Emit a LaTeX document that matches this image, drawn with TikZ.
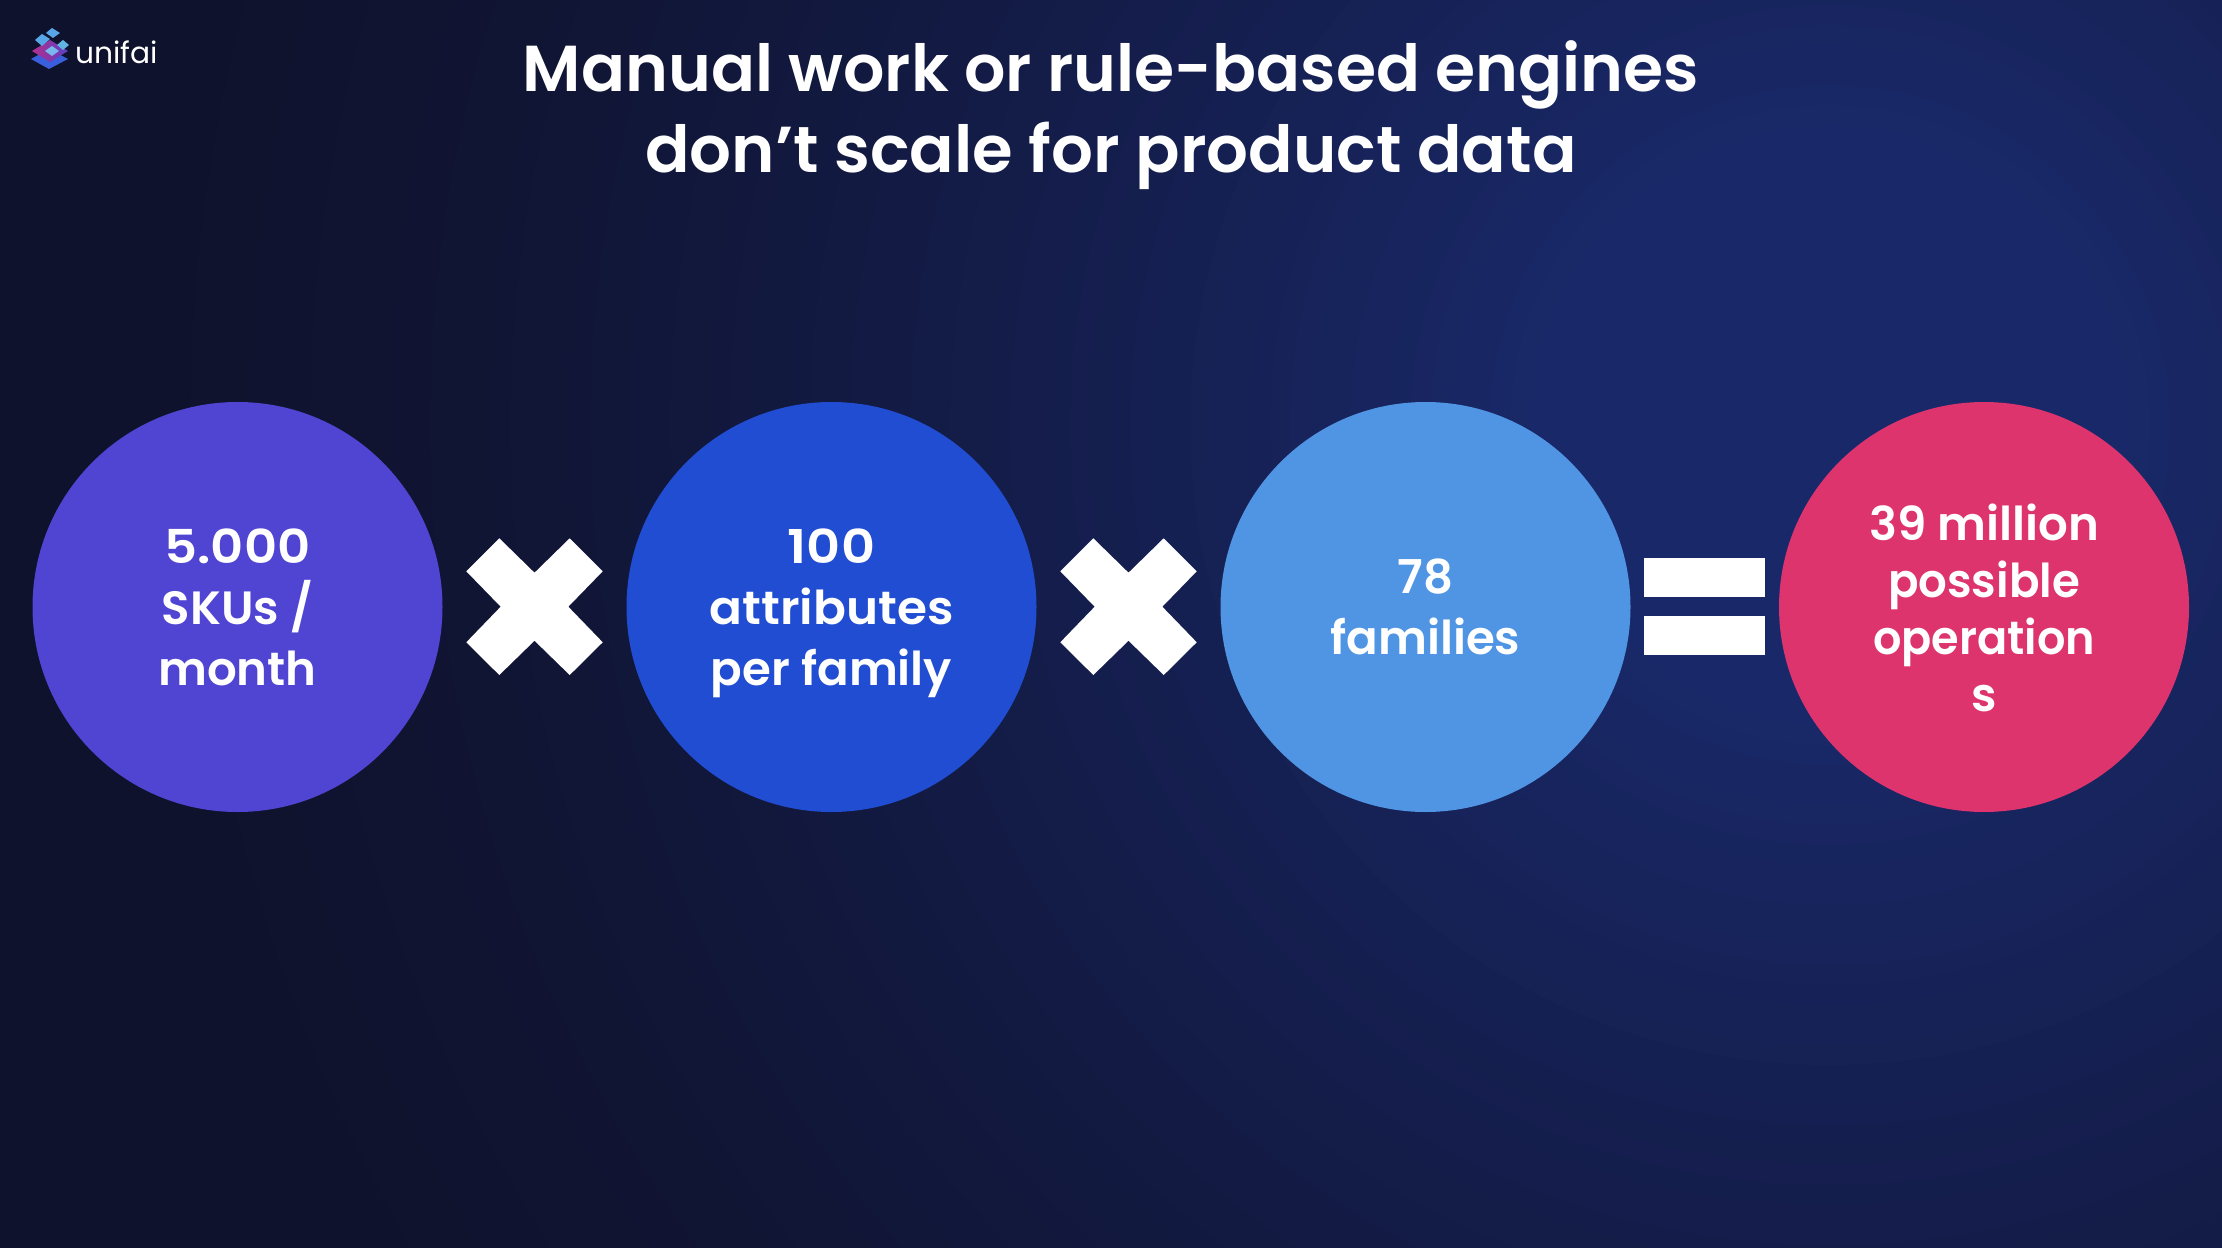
\documentclass[tikz,border=0pt]{standalone}
\usepackage{fontspec}
\setmainfont{Poppins}
\newfontfamily\semi{Poppins SemiBold}
\newfontfamily\regf{Poppins}
\definecolor{bgdark}{HTML}{0F122C}
\definecolor{bglight}{HTML}{192868}
\definecolor{cviolet}{HTML}{5044D2}
\definecolor{cblue}{HTML}{214DD2}
\definecolor{csky}{HTML}{5094E4}
\definecolor{cpink}{HTML}{DD346D}
\definecolor{lgblue}{HTML}{3A5FDC}
\definecolor{lgsky}{HTML}{58A6E8}
\definecolor{lgcyan}{HTML}{62B4E0}
\definecolor{lgpurA}{HTML}{B32F8E}
\definecolor{lgpurB}{HTML}{5B40C4}
\tikzset{
  disc/.style={circle,minimum size=410*0.75pt,inner sep=0pt,text=white,align=center,font=\semi\fontsize{35}{45.7}\selectfont},
  discfour/.style={disc,font=\semi\fontsize{35}{42.8}\selectfont},
  heading/.style={text=white,align=center,inner sep=0pt,font=\semi\fontsize{48.7}{60.7}\selectfont},
  symb/.style={fill=white},
  logotile/.style={fill=lgsky},
}
\begin{document}
\begin{tikzpicture}[x=0.75pt,y=-0.75pt]
\useasboundingbox (0,0) rectangle (2222,1248);
\begin{scope}
\clip (0,0) rectangle (2222,1248);
\fill[bgdark] (0,0) rectangle (2222,1248);
\foreach \r in {1800,1780,...,300}{
  \pgfmathtruncatemacro{\p}{round(100*((1800-\r)/1500)^1.6)}
  \fill[bglight!\p!bgdark] (1830,425) circle[radius=\r];
}
\end{scope}
% logo
\fill[lgblue] (31,59) -- (49,49) -- (68,59) -- (49,69) -- cycle;
\shade[left color=lgpurA,right color=lgpurB] (32,51) -- (50,40) -- (68,51) -- (50,62) -- cycle;
\fill[logotile] (52,28) -- (60,33) -- (53,38) -- (46,33) -- cycle;
\fill[logotile] (42,34) -- (50,39) -- (42,46) -- (35,40) -- cycle;
\fill[lgcyan] (63,40) -- (69,45) -- (63,50) -- (57,45) -- cycle;
\fill[lgsky!80!white] (52,46) -- (59,51) -- (52,56) -- (45,51) -- cycle;
\node[text=white,inner sep=0pt,font=\regf\fontsize{22.3}{28}\selectfont] (brand) at (116.5,52) {unifai};
% title
\node[heading] (title) at (1111,115.5) {Manual work or rule-based engines\\\scalebox{1.012}[1]{don’t scale for product data}};
% circles
\node[disc,fill=cviolet] (a) at (237.5,607) {\scalebox{1.1}[1]{5.000}\\SKUs /\\month};
\node[disc,fill=cblue] (b) at (831.5,607) {\scalebox{1.13}[1]{100}\\\scalebox{1.04}[1]{attributes}\\\raisebox{0pt}[\height][0pt]{per family}};
\node[disc,fill=csky] (c) at (1425.5,607) {78\\families};
\node[discfour,fill=cpink] (d) at (1984,607) {\rule{0pt}{29pt}39 million\\\scalebox{0.965}[1]{possible}\\\scalebox{0.955}[1]{operation}\\s};
% symbols
\foreach \dx in {0,594}{
\begin{scope}[shift={(\dx,0)}]
\fill[symb] (499.3,538.3) -- (534.5,572.7) -- (569.7,538.3) -- (602.7,571.3) -- (568.3,606.7) -- (602.7,642.3) -- (569.7,675) -- (534.5,640.7) -- (499.3,675) -- (466.3,642.3) -- (500.7,606.7) -- (466.3,571.3) -- cycle;
\end{scope}}
\fill[symb] (1644,558.3) rectangle (1765,597.3);
\fill[symb] (1644,616.3) rectangle (1765,655.3);
\end{tikzpicture}
\end{document}
